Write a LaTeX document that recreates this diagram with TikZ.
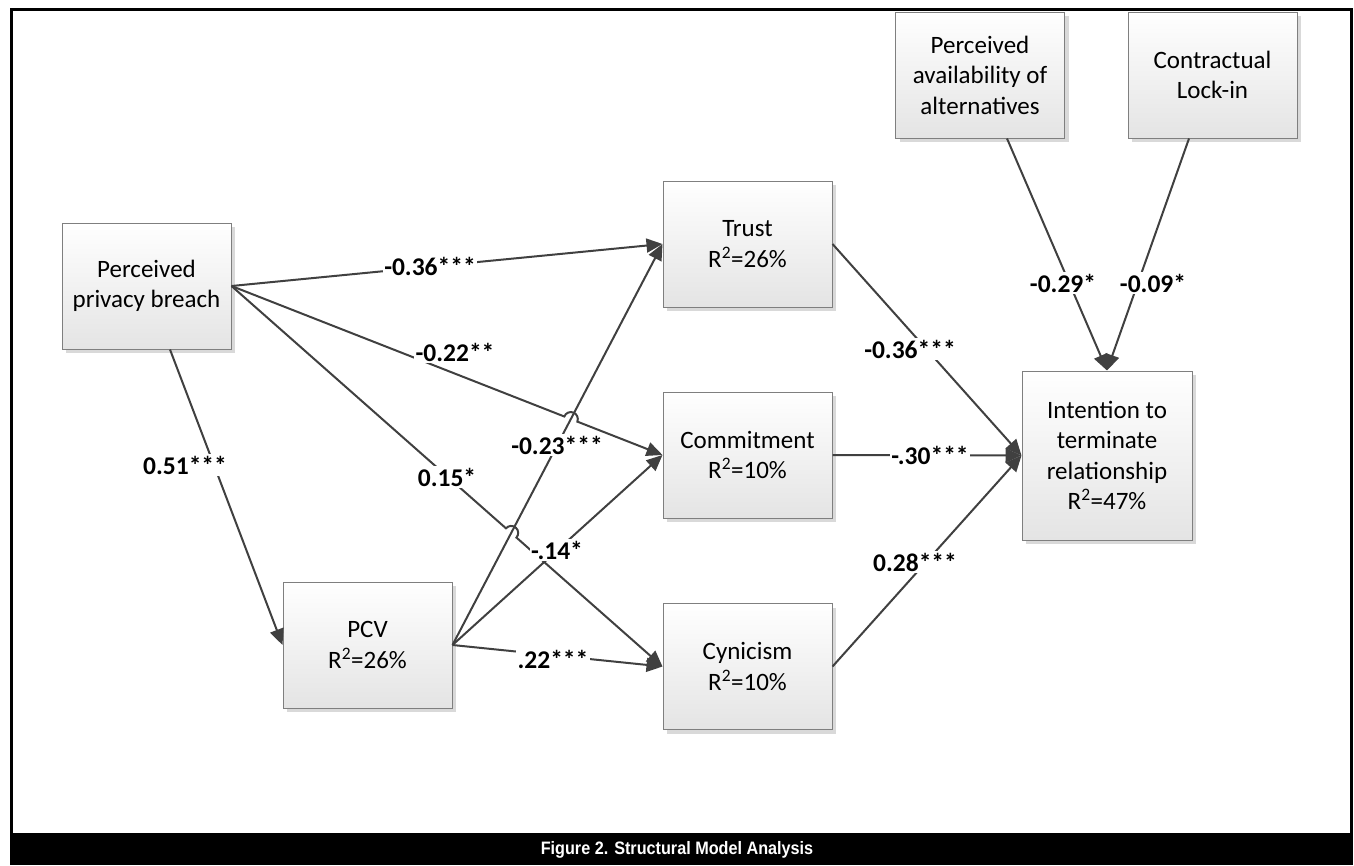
\documentclass[tikz,border=0pt]{standalone}
\usepackage{fontspec}
\setmainfont{Carlito}
\newfontfamily\capfont{Liberation Sans}
\usetikzlibrary{arrows.meta,calc,intersections}
\definecolor{edgegray}{HTML}{404040}
\definecolor{boxline}{HTML}{7F7F7F}
\definecolor{boxbot}{HTML}{E4E4E4}
\definecolor{shadowgray}{HTML}{D9D9D9}
\begin{document}
\begin{tikzpicture}[x=1pt,y=-1pt,
  box/.style={draw=boxline, line width=1pt, top color=white, bottom color=boxbot,
    minimum width=169pt, minimum height=126pt, inner sep=0pt, align=center,
    font=\fontsize{25}{30.5}\selectfont,
    preaction={fill=shadowgray, transform canvas={shift={(4pt,-4pt)}}}},
  edge/.style={draw=edgegray, line width=2pt, -{Triangle[length=16pt,width=14pt]}},
  coef/.style={fill=white, inner sep=1.5pt, font=\fontsize{25.5}{28}\bfseries\selectfont},
]
\useasboundingbox (0,0) rectangle (1354,865);
% frame and caption bar
\draw[line width=3pt] (11,833) -- (11,9) -- (1351,9) -- (1351,833);
\fill[black] (9.5,833) rectangle (1352.5,865);
\node[font=\capfont\bfseries\fontsize{18}{20}\selectfont, text=white] (cap) at (677,850) {\scalebox{0.9}[1]{Figure 2. Structural Model Analysis}};

% boxes
\node[box] (ppb) at (146.5,286) {Perceived\\privacy breach};
\node[box] (pcv) at (367.5,645) {PCV\\R\textsuperscript{2}=26\%};
\node[box] (trust) at (747.5,244) {Trust\\R\textsuperscript{2}=26\%};
\node[box] (com) at (747.5,455) {Commitment\\R\textsuperscript{2}=10\%};
\node[box] (cyn) at (747.5,666.5) {Cynicism\\R\textsuperscript{2}=10\%};
\node[box, minimum width=170pt, minimum height=169pt] (int) at (1107,455.5) {Intention to\\terminate\\relationship\\R\textsuperscript{2}=47\%};
\node[box] (paa) at (980,75) {Perceived\\availability of\\alternatives};
\node[box] (lock) at (1212.5,75) {Contractual\\Lock-in};

% intersection points for line hops
\path[name path=pt] (pcv.east) -- (trust.west);
\path[name path=pc] (ppb.east) -- (com.west);
\path[name path=py] (ppb.east) -- (cyn.west);
\path[name intersections={of=pt and pc, by=h1}];
\path[name intersections={of=pt and py, by=h2}];

% edges
\draw[edge] (ppb.east) -- (trust.west);
\draw[edge] let \p1=($(com.west)-(ppb.east)$), \n1={atan2(\y1,\x1)} in
  (ppb.east) -- ($(h1)!7pt!(ppb.east)$) arc[start angle=\n1+180, end angle=\n1, radius=7pt] -- (com.west);
\draw[edge] let \p1=($(cyn.west)-(ppb.east)$), \n1={atan2(\y1,\x1)} in
  (ppb.east) -- ($(h2)!7pt!(ppb.east)$) arc[start angle=\n1+180, end angle=\n1, radius=7pt] -- (cyn.west);
\draw[edge] ([xshift=23.5pt]ppb.south) -- (pcv.west);
\draw[edge] (pcv.east) -- (trust.west);
\draw[edge] (pcv.east) -- (com.west);
\draw[edge] (pcv.east) -- (cyn.west);
\draw[edge] (trust.east) -- (int.west);
\draw[edge] (com.east) -- (int.west);
\draw[edge] (cyn.east) -- (int.west);
\draw[edge] ([xshift=27pt]paa.south) -- (int.north);
\draw[edge] ([xshift=-23.5pt]lock.south) -- (int.north);

% coefficients
\node[coef] (l1) at (430,266) {-0.36***};
\node[coef] (l2) at (455,352) {-0.22**};
\node[coef] (l3) at (447,477) {0.15*};
\node[coef] (l4) at (557,445) {-0.23***};
\node[coef] (l5) at (557,550) {-.14*};
\node[coef] (l6) at (553,659) {.22***};
\node[coef] (l7) at (185,465) {0.51***};
\node[coef] (l8) at (910,349) {-0.36***};
\node[coef] (l9) at (930,455) {-.30***};
\node[coef] (l10) at (915,562) {0.28***};
\node[coef] (l11) at (1063,283) {-0.29*};
\node[coef] (l12) at (1153,283) {-0.09*};
\end{tikzpicture}
\end{document}
